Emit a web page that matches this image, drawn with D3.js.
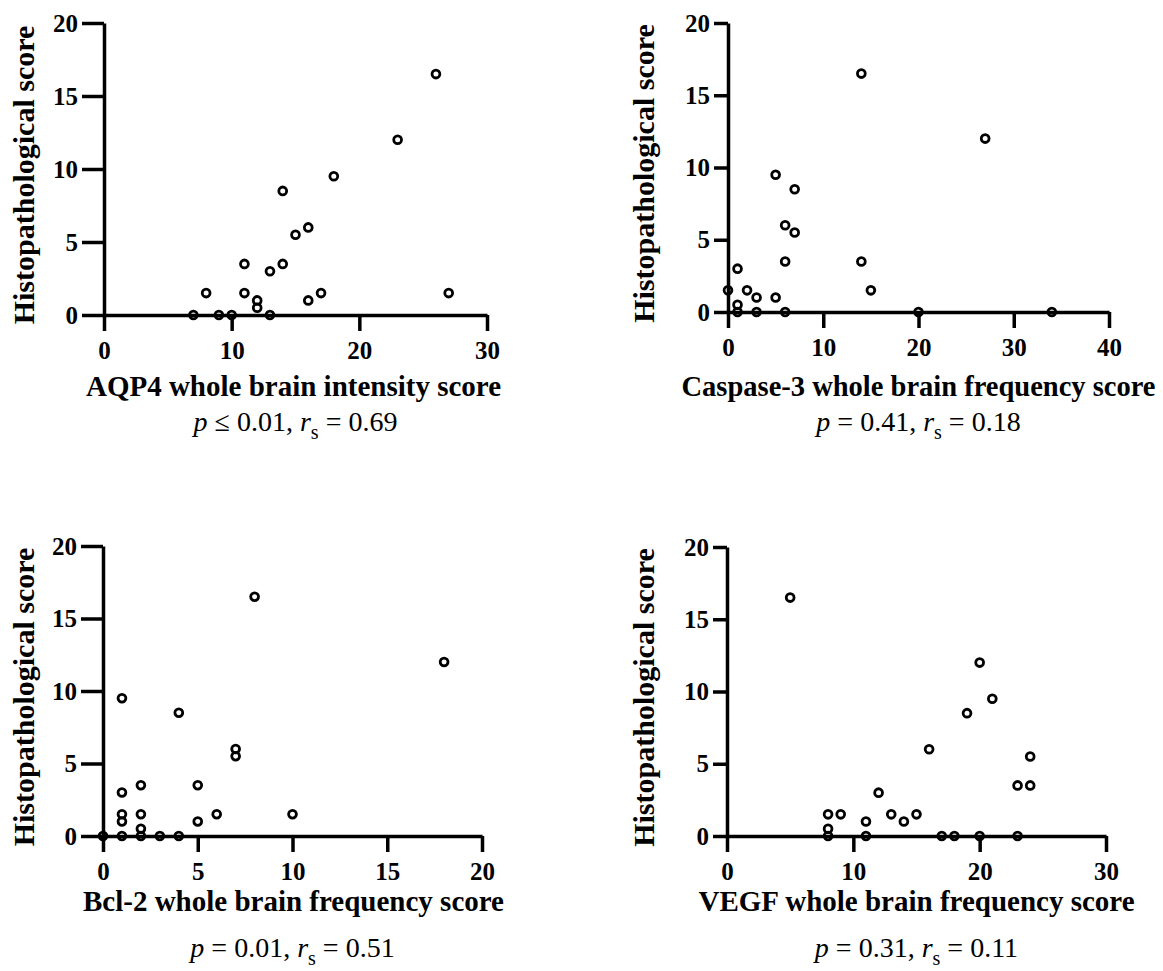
<html>
  <head>
    <script src="https://cdn.jsdelivr.net/npm/d3@7"></script>
    <style>
      body { margin: 0; background: #fff; }
      text { font-family: "Liberation Serif", "Times New Roman", serif; }
    </style>
  </head>
  <body>
    <div id="container"></div>
    <script>
      // data (x = marker score, y = histopathological score)
      const aqp4X = [26, 23, 18, 14, 16, 15, 11, 14, 13, 8, 11, 12, 12, 16, 17, 27, 7, 9, 10, 13];
      const aqp4Y = [16.5, 12, 9.5, 8.5, 6, 5.5, 3.5, 3.5, 3, 1.5, 1.5, 1, 0.5, 1, 1.5, 1.5, 0, 0, 0, 0];

      const caspX = [14, 27, 5, 7, 6, 7, 6, 14, 1, 0, 2, 3, 5, 15, 1, 1, 3, 6, 20, 34];
      const caspY = [16.5, 12, 9.5, 8.5, 6, 5.5, 3.5, 3.5, 3, 1.5, 1.5, 1, 1, 1.5, 0.5, 0, 0, 0, 0, 0];

      const bcl2X = [8, 18, 1, 4, 7, 7, 1, 2, 5, 1, 1, 2, 2, 5, 6, 10, 0, 1, 2, 3, 4];
      const bcl2Y = [16.5, 12, 9.5, 8.5, 6, 5.5, 3, 3.5, 3.5, 1.5, 1, 1.5, 0.5, 1, 1.5, 1.5, 0, 0, 0, 0, 0];

      const vegfX = [5, 20, 21, 19, 16, 24, 23, 24, 12, 8, 9, 8, 11, 13, 14, 15, 8, 11, 17, 18, 20, 23];
      const vegfY = [16.5, 12, 9.5, 8.5, 6, 5.5, 3.5, 3.5, 3, 1.5, 1.5, 0.5, 1, 1.5, 1, 1.5, 0, 0, 0, 0, 0, 0];

      const yTicks = [0, 5, 10, 15, 20];
      const xTicksA = [0, 10, 20, 30];
      const xTicksB = [0, 10, 20, 30, 40];
      const xTicksC = [0, 5, 10, 15, 20];

      const yTitle = "Histopathological score";
      const xTitles = [
        "AQP4 whole brain intensity score",
        "Caspase-3 whole brain frequency score",
        "Bcl-2 whole brain frequency score",
        "VEGF whole brain frequency score"
      ];
      const pTexts = [["≤ 0.01", "0.69"], ["= 0.41", "0.18"], ["= 0.01", "0.51"], ["= 0.31", "0.11"]];

      const W = 1163, H = 971;
      const svg = d3.select("#container").append("svg")
        .attr("width", W).attr("height", H);

      // plot frames in pixels, y-tick length, title positions
      const panels = [
        { xs: aqp4X, ys: aqp4Y, xt: xTicksA, l: 104, r: 487, t: 23, b: 315, yt: 22, ylab: 34, ty: 396, py: 431, dx: -2 },
        { xs: caspX, ys: caspY, xt: xTicksB, l: 728, r: 1109, t: 23, b: 312, yt: 14, ylab: 654, ty: 396, py: 431, dx: 0 },
        { xs: bcl2X, ys: bcl2Y, xt: xTicksC, l: 103, r: 482, t: 546, b: 836, yt: 22, ylab: 34, ty: 911, py: 957, dx: 1 },
        { xs: vegfX, ys: vegfY, xt: xTicksA, l: 727, r: 1106, t: 547, b: 836, yt: 14, ylab: 654, ty: 911, py: 957, dx: 0 }
      ];

      panels.forEach((p, i) => {
        const g = svg.append("g");
        const x = d3.scaleLinear().domain([0, d3.max(p.xt)]).range([p.l, p.r]);
        const y = d3.scaleLinear().domain([0, 20]).range([p.b, p.t]);

        g.append("g")
          .attr("transform", `translate(${p.l},0)`)
          .call(d3.axisLeft(y).tickValues(yTicks).tickSize(p.yt).tickSizeOuter(0).tickPadding(4));
        g.append("g")
          .attr("transform", `translate(0,${p.b})`)
          .call(d3.axisBottom(x).tickValues(p.xt).tickSize(16).tickSizeOuter(0).tickPadding(10));

        g.selectAll(".domain, .tick line").attr("stroke", "#000").attr("stroke-width", 3.5);
        g.selectAll(".tick text")
          .attr("fill", "#000")
          .style("font-size", "25px")
          .style("font-weight", "bold")
          .style("font-family", "Liberation Serif");

        g.selectAll("circle.pt")
          .data(p.xs.map((v, k) => [v, p.ys[k]]))
          .enter().append("circle")
          .attr("class", "pt")
          .attr("cx", d => x(d[0]))
          .attr("cy", d => y(d[1]))
          .attr("r", 3.9)
          .attr("fill", "none")
          .attr("stroke", "#000")
          .attr("stroke-width", 2.8);

        // rotated y title, baseline at ylab
        g.append("text")
          .attr("transform", `translate(${p.ylab},${(p.t + p.b) / 2 + 6}) rotate(-90)`)
          .attr("text-anchor", "middle")
          .style("font-size", "30px")
          .style("font-weight", "bold")
          .text(yTitle);

        g.append("text")
          .attr("x", (p.l + p.r) / 2 + p.dx).attr("y", p.ty)
          .attr("text-anchor", "middle")
          .style("font-size", i === 1 ? "28.5px" : "29px")
          .style("font-weight", "bold")
          .text(xTitles[i]);

        const pt = g.append("text")
          .attr("x", (p.l + p.r) / 2).attr("y", p.py)
          .attr("text-anchor", "middle")
          .style("font-size", "28px");
        pt.append("tspan").style("font-style", "italic").text("p");
        pt.append("tspan").text(" " + pTexts[i][0] + ", ");
        pt.append("tspan").style("font-style", "italic").text("r");
        pt.append("tspan").attr("dy", 8).style("font-size", "20px").text("s");
        pt.append("tspan").attr("dy", -8).text(" = " + pTexts[i][1]);
      });
    </script>
  </body>
</html>
